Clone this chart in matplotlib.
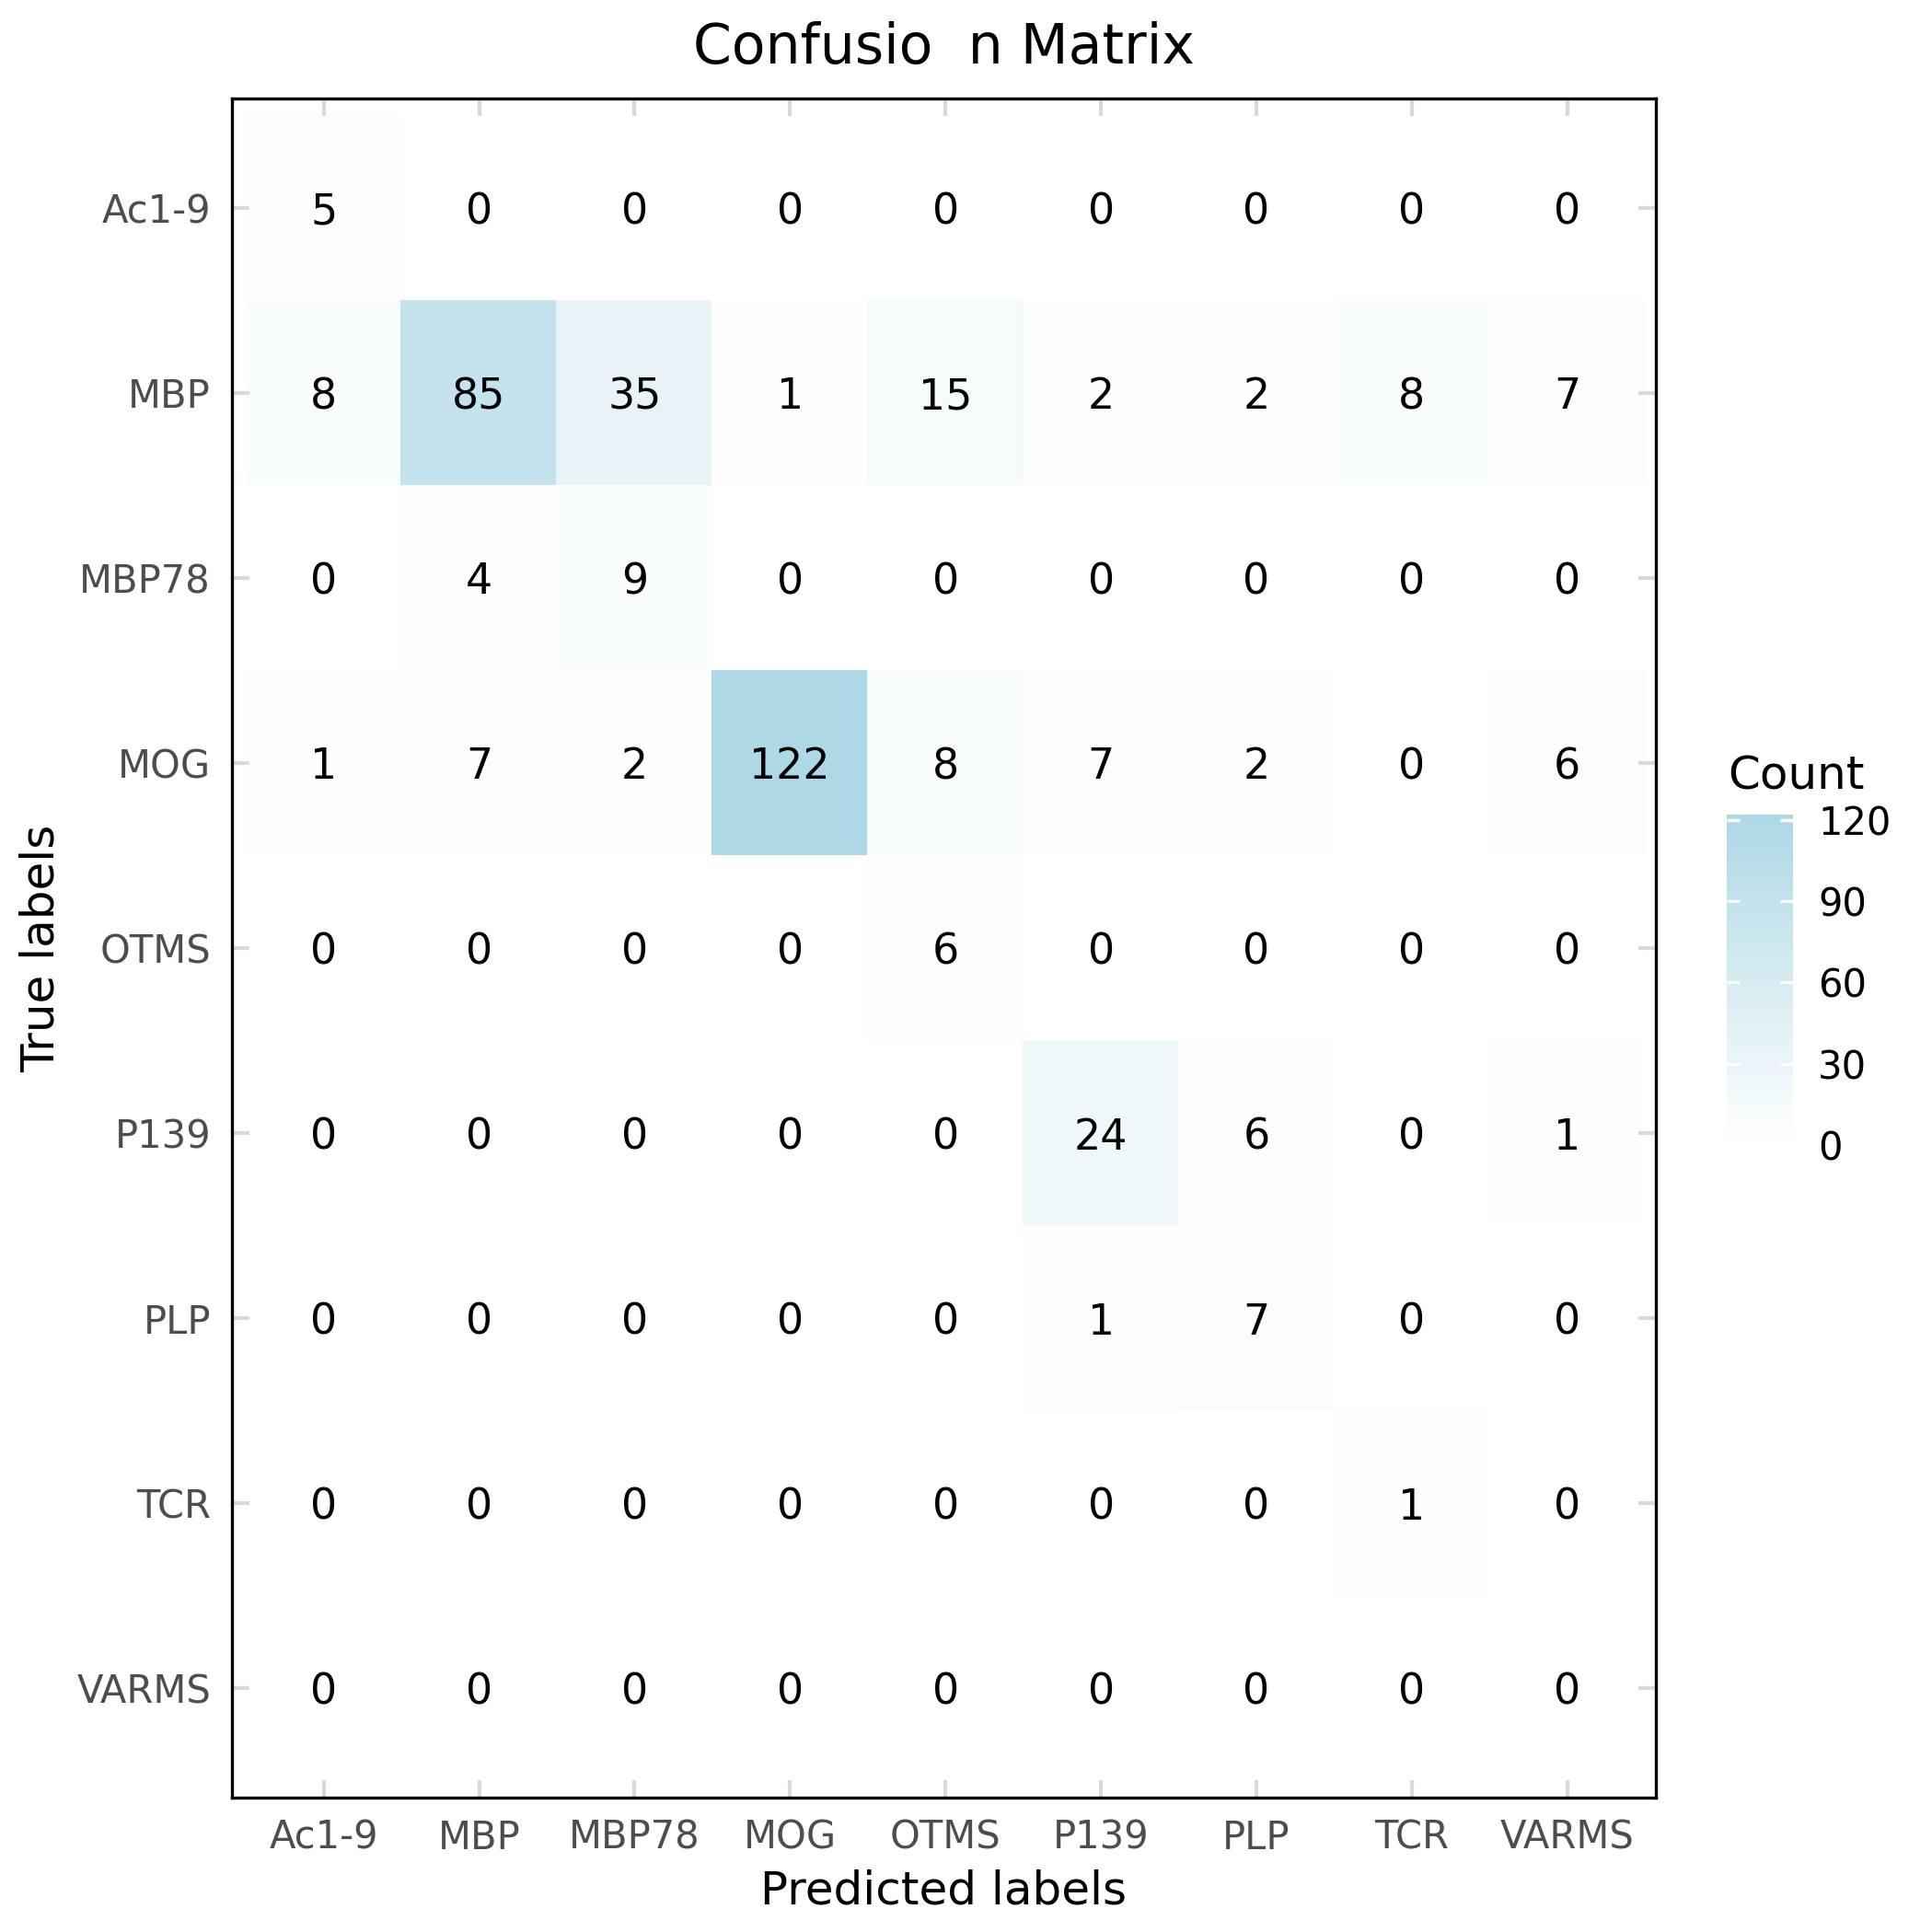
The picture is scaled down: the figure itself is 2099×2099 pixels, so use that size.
import numpy as np
import matplotlib
matplotlib.use("Agg")
import matplotlib.pyplot as plt
from matplotlib.colors import LinearSegmentedColormap

plt.rcParams["font.family"] = ["DejaVu Sans"]

labels = ["Ac1-9", "MBP", "MBP78", "MOG", "OTMS", "P139", "PLP", "TCR", "VARMS"]
counts = [
    [5, 0, 0, 0, 0, 0, 0, 0, 0],
    [8, 85, 35, 1, 15, 2, 2, 8, 7],
    [0, 4, 9, 0, 0, 0, 0, 0, 0],
    [1, 7, 2, 122, 8, 7, 2, 0, 6],
    [0, 0, 0, 0, 6, 0, 0, 0, 0],
    [0, 0, 0, 0, 0, 24, 6, 0, 1],
    [0, 0, 0, 0, 0, 1, 7, 0, 0],
    [0, 0, 0, 0, 0, 0, 0, 1, 0],
    [0, 0, 0, 0, 0, 0, 0, 0, 0],
]
cbar_ticks = [0, 30, 60, 90, 120]

W = 2099
fig = plt.figure(figsize=(W / 300, W / 300), dpi=300)
ax = fig.add_axes([252 / W, 1 - 1953 / W, 1547 / W, 1846 / W])

cmap = LinearSegmentedColormap.from_list("wb", ["#FFFFFF", "#ADD8E6"])
mat = np.array(counts)
im = ax.imshow(mat, cmap=cmap, vmin=0, vmax=mat.max(), aspect="auto",
               interpolation="nearest")

for i in range(len(labels)):
    for j in range(len(labels)):
        ax.text(j, i, str(mat[i, j]), ha="center", va="center_baseline",
                fontsize=11, color="black")

ax.set_xlim(-0.59, len(labels) - 1 + 0.57)
ax.set_ylim(len(labels) - 1 + 0.59, -0.59)
ax.set_xticks(range(len(labels)))
ax.set_xticklabels(labels)
ax.set_yticks(range(len(labels)))
ax.set_yticklabels(labels)
ax.tick_params(direction="in", length=4.5, width=1, color="#D9D9D9",
               top=True, right=True, labelsize=10, labelcolor="#4D4D4D",
               pad=5.5)
for s in ax.spines.values():
    s.set_linewidth(0.8)
    s.set_color("black")

ax.set_title("Confusio  n Matrix", fontsize=14.4, pad=9)
ax.set_xlabel("Predicted labels", fontsize=12, labelpad=3)
ax.set_ylabel("True labels", fontsize=12, labelpad=3.5)

cax = fig.add_axes([1876 / W, 1 - 1244 / W, 72 / W, 359 / W])
cb = fig.colorbar(im, cax=cax, ticks=cbar_ticks)
cb.outline.set_visible(False)
cax.tick_params(direction="in", length=3.4, width=0.8, color="white",
                left=True, right=True, labelsize=10, pad=6.5)
fig.text(1877 / W, 1 - 857 / W, "Count", fontsize=12, ha="left", va="baseline")

fig.savefig("out.png", dpi=300)
